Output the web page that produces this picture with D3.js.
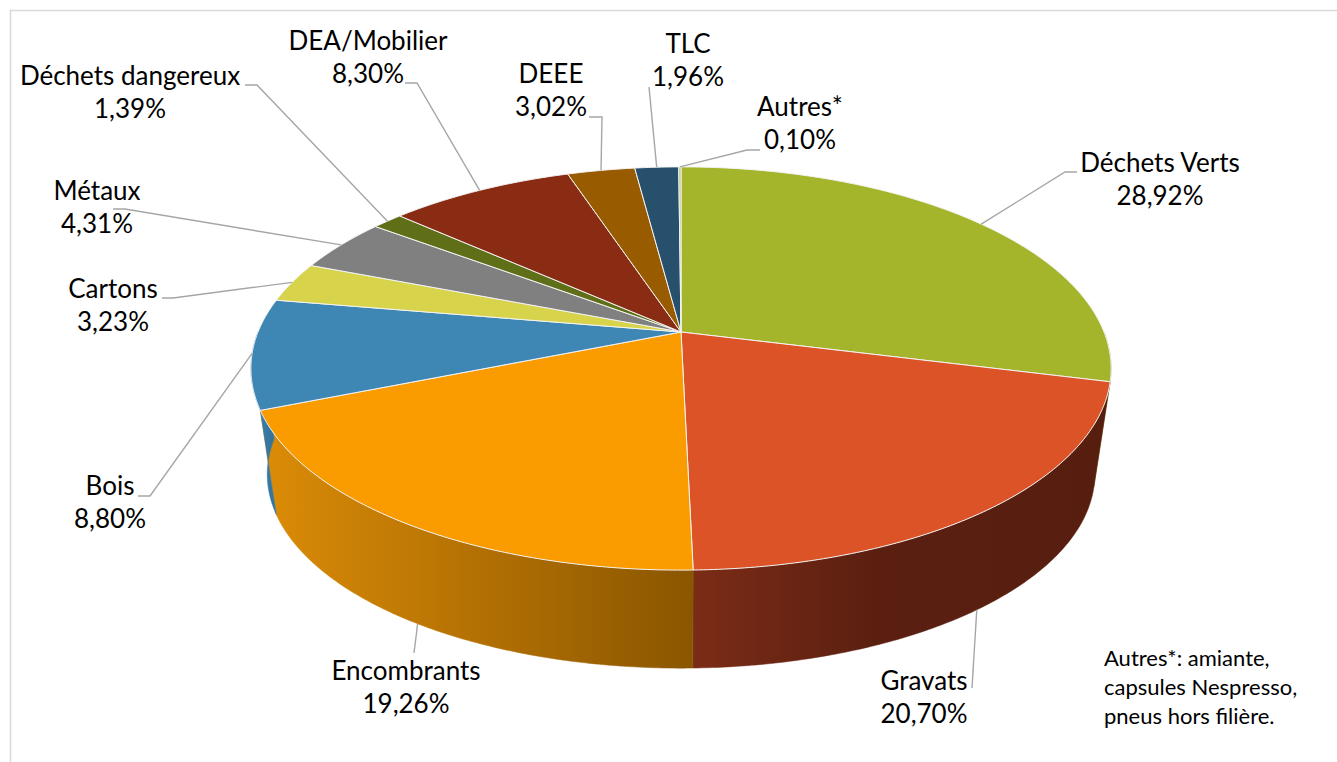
<!DOCTYPE html>
<html>
<head>
<meta charset="utf-8">
<script src="https://cdn.jsdelivr.net/npm/d3@7.9.0/dist/d3.min.js"></script>
<style>
  html, body { margin: 0; padding: 0; background: #fff; }
  svg { display: block; font-family: Lato, "Open Sans", sans-serif; }
</style>
</head>
<body>
<svg id="chart" width="1337" height="762"></svg>
<script>
// data
const categories = ['Déchets Verts', 'Gravats', 'Encombrants', 'Bois', 'Cartons', 'Métaux',
  'Déchets dangereux', 'DEA/Mobilier', 'DEEE', 'TLC', 'Autres*'];
const shares = [28.92, 20.70, 19.26, 8.80, 3.23, 4.31, 1.39, 8.30, 3.02, 1.96, 0.10];
const noteLines = ['Autres*: amiante,', 'capsules Nespresso,', 'pneus hors filière.'];

// styles
const topColors = ['#A5B52B', '#DC5327', '#FA9B00', '#3E87B4', '#D7D34A', '#808080',
  '#5F6F17', '#8A2B13', '#985B00', '#26506B', '#B4C07A'];
const sideColors = [['#8E9C25', '#7F8B1F'], ['#7B2C16', '#571E0F'], ['#DC8C07', '#8A5600'],
  ['#3B82AF', '#33729A'], ['#B8B43C', '#B8B43C'], ['#6E6E6E', '#6E6E6E'],
  ['#4F5C12', '#4F5C12'], ['#72230F', '#72230F'], ['#7E4B00', '#7E4B00'],
  ['#1F4259', '#1F4259'], ['#9AA566', '#9AA566']];

// label layout: text centre / first baseline, leader elbow points, which rim the leader starts on
const labelLayout = {
  'Déchets Verts': { x: 1160, y: 172, elbow: [[1065, 172], [1077, 172]], rim: 'top' },
  'Gravats': { x: 924, y: 690, elbow: [[972, 688]], rim: 'bottom' },
  'Encombrants': { x: 406, y: 680, elbow: [[414, 653]], rim: 'bottom' },
  'Bois': { x: 110, y: 495, elbow: [[150, 496], [138, 496]], rim: 'top' },
  'Cartons': { x: 113, y: 298, elbow: [[173, 298], [162, 298]], rim: 'top' },
  'Métaux': { x: 97, y: 200, elbow: [[125, 209], [113, 209]], rim: 'top' },
  'Déchets dangereux': { x: 130, y: 85, elbow: [[257, 85], [245, 85]], rim: 'top' },
  'DEA/Mobilier': { x: 368, y: 50, elbow: [[417, 83], [405, 83]], rim: 'top' },
  'DEEE': { x: 551, y: 83, elbow: [[602, 117], [589, 117]], rim: 'top' },
  'TLC': { x: 688, y: 53, elbow: [[649, 87]], rim: 'top' },
  'Autres*': { x: 800, y: 116, elbow: [[747, 150], [760, 150]], rim: 'top' }
};

const width = 1337;
const height = 762;
const cx = 681, cy = 332;       // pie centre on screen
const rx = 423, ry = 195;       // projected radii
const persp = 0.181;            // perspective strength of the top plane
const vanishY = 3150, shrink = 0.962; // bottom face = top face scaled toward a far vanishing point
const lineGap = 33;

// point on the top face, phi clockwise from 12 o'clock
function topPoint(phi, r = 1) {
  const X = r * Math.sin(phi);
  const Z = -r * Math.cos(phi);
  const w = 1 - persp * Z;
  return [cx + rx * X / w, cy + ry * Z / w];
}

function bottomPoint(phi, r = 1) {
  const [x, y] = topPoint(phi, r);
  return [cx + shrink * (x - cx), vanishY + shrink * (y - vanishY)];
}

function sampleAngles(a0, a1) {
  const n = Math.max(2, Math.ceil((a1 - a0) / 0.01));
  return d3.range(n + 1).map(i => a0 + (a1 - a0) * i / n);
}

const fmt = v => d3.format('.2f')(v).replace('.', ',') + '%';

const data = categories.map((name, i) => ({ name, share: shares[i], i }));
const arcs = d3.pie().sort(null).value(d => d.share)(data);

const svg = d3.select('#chart');
const defs = svg.append('defs');
const line = d3.line();

// frame
svg.append('path')
  .attr('d', `M10.5,${height} V10.5 H${width}`)
  .attr('fill', 'none')
  .attr('stroke', '#d9d9d9')
  .attr('stroke-width', 1.5);

// side walls (front half only)
const sideG = svg.append('g').attr('class', 'sides');
arcs.forEach(a => {
  const a0 = Math.max(a.startAngle, Math.PI / 2);
  const a1 = Math.min(a.endAngle, Math.PI * 1.5);
  if (a1 <= a0) return;
  const angles = sampleAngles(a0, a1);
  const tops = angles.map(p => topPoint(p));
  const bots = angles.map(p => bottomPoint(p)).reverse();
  const pts = tops.concat(bots);
  const xs = d3.extent(pts, p => p[0]);
  const id = 'side-' + a.data.i;
  const grad = defs.append('linearGradient')
    .attr('id', id)
    .attr('gradientUnits', 'userSpaceOnUse')
    .attr('x1', xs[0]).attr('x2', xs[1]).attr('y1', 0).attr('y2', 0);
  const [c0, c1] = sideColors[a.data.i];
  grad.append('stop').attr('offset', 0).attr('stop-color', c0);
  if (a.data.name === 'Gravats') {
    grad.append('stop').attr('offset', 0.45).attr('stop-color', '#5A1F10');
  }
  grad.append('stop').attr('offset', 1).attr('stop-color', c1);
  sideG.append('path')
    .attr('d', line(pts) + 'Z')
    .attr('fill', `url(#${id})`)
    .attr('stroke', `url(#${id})`)
    .attr('stroke-width', 0.5);
});

// top faces
svg.append('g').attr('class', 'tops')
  .selectAll('path')
  .data(arcs)
  .join('path')
  .attr('d', a => line([[cx, cy]].concat(sampleAngles(a.startAngle, a.endAngle).map(p => topPoint(p)))) + 'Z')
  .attr('fill', a => topColors[a.data.i])
  .attr('stroke', '#f3f3f3')
  .attr('stroke-width', 1)
  .attr('stroke-linejoin', 'round');

// leader lines
svg.append('g').attr('class', 'leaders')
  .selectAll('path')
  .data(arcs)
  .join('path')
  .attr('d', a => {
    const lay = labelLayout[a.data.name];
    const mid = (a.startAngle + a.endAngle) / 2;
    const start = lay.rim === 'bottom' ? bottomPoint(mid) : topPoint(mid);
    return line([start].concat(lay.elbow));
  })
  .attr('fill', 'none')
  .attr('stroke', '#a6a6a6')
  .attr('stroke-width', 1.4);

// labels
const labels = svg.append('g').attr('class', 'labels')
  .selectAll('text')
  .data(arcs)
  .join('text')
  .attr('text-anchor', 'middle')
  .attr('font-size', 26)
  .attr('fill', '#000');

labels.append('tspan')
  .attr('x', a => labelLayout[a.data.name].x)
  .attr('y', a => labelLayout[a.data.name].y)
  .text(a => a.data.name);

labels.append('tspan')
  .attr('x', a => labelLayout[a.data.name].x)
  .attr('y', a => labelLayout[a.data.name].y + lineGap)
  .text(a => fmt(a.data.share));

// footnote
svg.append('text')
  .attr('font-size', 22)
  .attr('fill', '#000')
  .selectAll('tspan')
  .data(noteLines)
  .join('tspan')
  .attr('x', 1104)
  .attr('y', (d, i) => 666 + i * 29)
  .text(d => d);
</script>
</body>
</html>
